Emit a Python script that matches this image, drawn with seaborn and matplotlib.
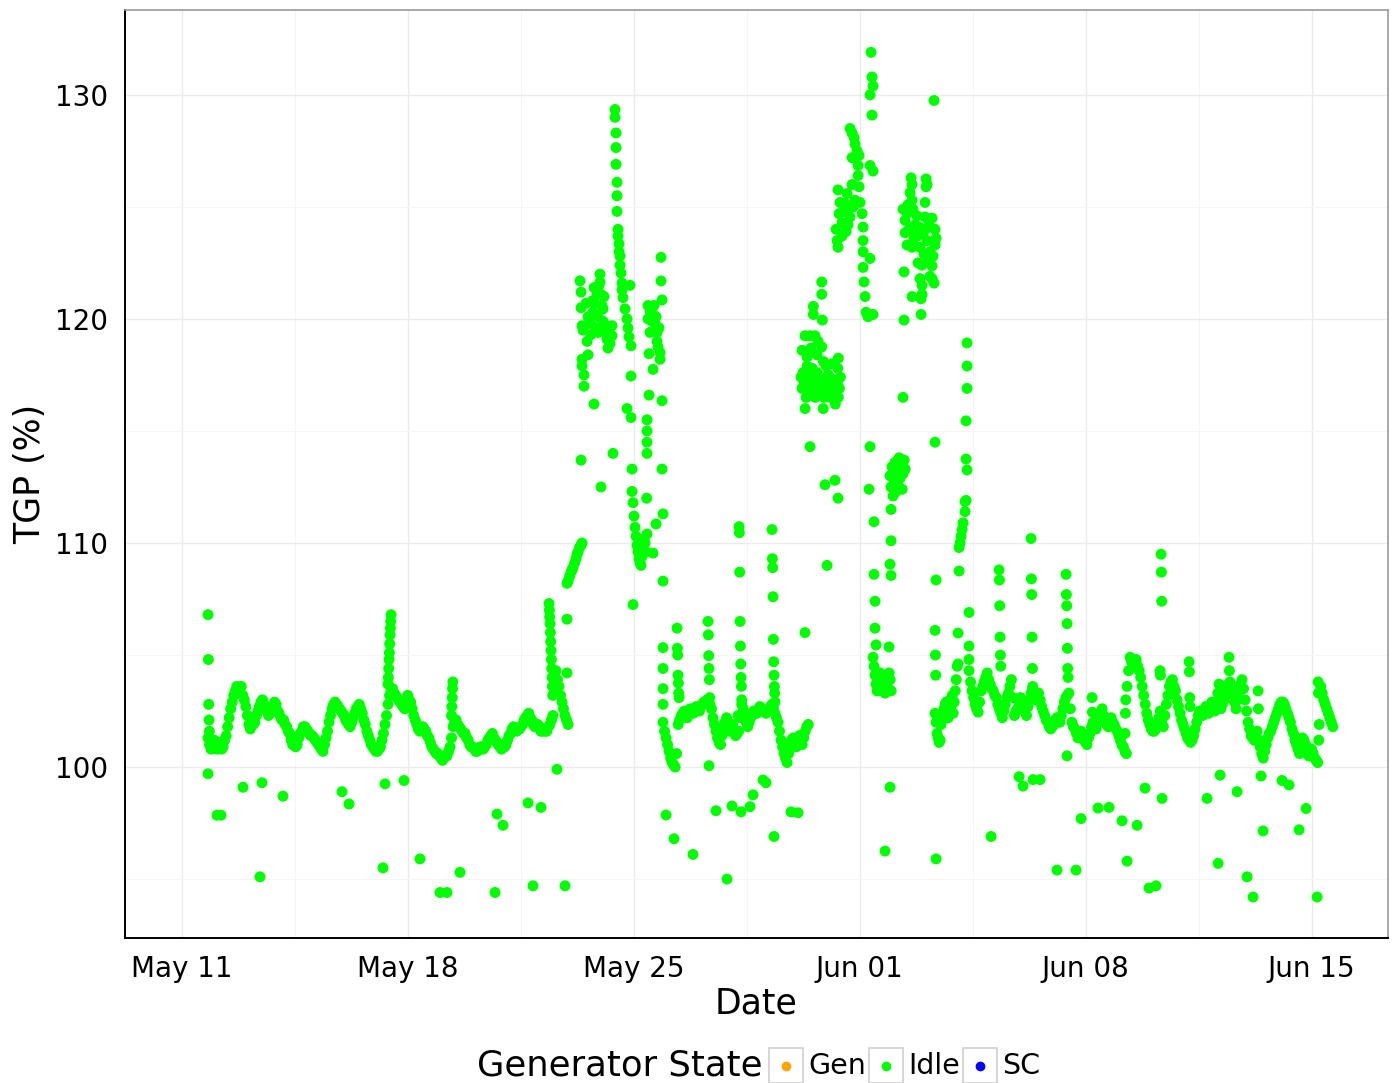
import numpy as np
import pandas as pd
import matplotlib
matplotlib.use("Agg")
import matplotlib.pyplot as plt
import matplotlib.dates as mdates
from matplotlib.patches import Rectangle
from matplotlib.lines import Line2D
from matplotlib.ticker import FixedLocator
import seaborn as sns

# ---------------------------------------------------------------------------
# Data: TGP readings (%) ; times are day offsets from 11 May 00:00
# ---------------------------------------------------------------------------
START = pd.Timestamp("2015-05-11")
BASE_STEP_H = 2.25    # regular baseline readings
FINE_STEP_H = 0.75    # dense clusters
SPIKE_STEP_H = 0.25   # rapid excursions

states = ["Gen", "Idle", "SC"]
state_colors = {"Gen": "#FFA500", "Idle": "#00FF00", "SC": "#0000FF"}

# baseline runs: readings every BASE_STEP_H, plus the readings taken half a step later
base_may11_start = 0.806
base_may11 = [101.3, 100.8, 101.2, 100.8, 101.1, 100.9, 101.4, 102.2, 102.9, 103.4,
              103.3, 103.6, 103.0, 102.3, 101.7, 101.9, 102.3, 102.7, 103.0, 102.6,
              102.3, 102.6, 102.9, 102.5, 102.2, 102.1, 101.8, 101.5, 101.0, 100.9,
              101.3, 101.6, 101.8, 101.6, 101.4, 101.3, 101.1, 100.9, 100.7, 101.3,
              102.0, 102.6, 102.9, 102.7, 102.5, 102.3, 102.0, 101.8, 102.2, 102.6,
              102.8, 102.4, 101.9, 101.4, 101.0, 100.8, 100.7, 100.9, 101.5, 102.3,
              103.2, 103.5, 103.2, 103.0, 102.8, 102.6, 103.2, 102.9, 102.3, 101.9,
              101.6, 101.8, 101.6, 101.3, 100.9, 100.7, 100.6, 100.4, 100.4, 100.5,
              100.9, 101.8, 102.1, 101.8, 101.6, 101.5, 101.2, 100.9, 100.8, 100.7,
              100.9, 100.8, 101.0, 101.3, 101.5, 101.2, 101.0, 100.8, 100.9, 101.2,
              101.5, 101.8, 101.6, 101.7, 101.9, 102.2, 102.4, 102.1, 101.8, 101.9,
              101.6, 101.7, 101.6, 101.9, 102.3, 104.3, 103.6, 102.9, 102.3, 101.9]
half_may11 = [101.0, 101.1, 101.0, 101.0, 100.8, 101.2, 101.8, 102.6, 103.2, 103.6,
              103.3, 103.2, 102.7, 101.9, 101.9, 102.0, 102.5, 102.9, 102.8, 102.5,
              102.4, 102.7, 102.8, 102.4, 102.1, 101.9, 101.6, 101.2, 101.1, 101.0,
              101.5, 101.8, 101.7, 101.5, 101.4, 101.2, 101.0, 100.8, 101.0, 101.6,
              102.3, 102.8, 102.8, 102.6, 102.4, 102.1, 101.9, 102.0, 102.4, 102.7,
              102.6, 102.1, 101.6, 101.2, 100.9, 100.7, 100.8, 101.2, 101.9, 102.8,
              103.4, 103.3, 103.1, 102.9, 102.7, 102.9, 103.0, 102.6, 102.1, 101.7,
              101.7, 101.7, 101.4, 101.1, 100.8, 100.6, 100.5, 100.3, 100.5, 100.7,
              101.3, 102.0, 101.9, 101.7, 101.5, 101.3, 101.0, 100.9, 100.7, 100.8,
              100.9, 100.9, 101.2, 101.4, 101.3, 101.1, 100.9, 100.9, 101.0, 101.4,
              101.7, 101.7, 101.7, 101.8, 102.1, 102.3, 102.2, 101.9, 101.8, 101.8,
              101.6, 101.6, 101.8, 102.1, 103.3, 103.9, 103.2, 102.6, 102.1]

base_may26_start = 14.906
base_may26 = [102.0, 101.3, 100.7, 100.2, 100.0, 101.9, 102.3, 102.5, 102.2, 102.6,
              102.4, 102.7, 102.5, 102.8, 102.9, 103.0, 102.6, 101.9, 101.3, 101.0,
              101.8, 102.2, 101.6, 101.9, 101.4, 101.6, 102.8, 102.3, 101.8, 102.2,
              102.5, 102.4, 102.7, 102.5, 102.4, 102.6, 102.8, 102.4, 102.0, 101.2,
              100.6, 100.2, 101.0, 101.3, 100.9, 101.4, 101.0, 101.6, 101.9]
half_may26 = [101.6, 101.0, 100.4, 100.1, 100.6, 102.1, 102.4, 102.3, 102.4, 102.5,
              102.6, 102.6, 102.7, 102.9, 103.0, 102.8, 102.2, 101.6, 101.1, 101.4,
              102.0, 101.9, 101.7, 101.6, 101.5, 102.2, 102.6, 102.0, 102.0, 102.4,
              102.4, 102.6, 102.6, 102.5, 102.5, 102.7, 102.6, 102.2, 101.6, 100.9,
              100.4, 100.6, 101.2, 101.1, 101.2, 101.2, 101.3, 101.8]

base_jun04_start = 24.388
base_jun04 = [104.3, 103.4, 102.8, 102.45, 103.4, 103.8, 104.2, 103.7, 103.4, 103.1,
              102.6, 102.2, 102.8, 103.3, 103.9, 102.3, 102.6, 103.1, 102.7, 102.3,
              103.0, 103.5, 103.0, 103.3, 102.7, 102.3, 102.0, 101.7, 101.9, 102.2,
              102.0, 102.6, 103.1, 103.3, 102.0, 101.7, 101.3, 101.6, 101.2, 101.0,
              101.5, 102.0, 101.7, 102.2, 102.6, 102.0, 101.8, 102.2, 101.9, 101.6,
              101.2, 100.9, 100.6]
half_jun04 = [103.8, 103.1, 102.6, 102.9, 103.6, 104.0, 103.9, 103.5, 103.2, 102.8,
              102.4, 102.5, 103.1, 103.6, 103.1, 102.5, 102.9, 102.9, 102.5, 102.7,
              103.3, 103.2, 103.2, 103.0, 102.5, 102.1, 101.8, 101.8, 102.1, 102.1,
              102.3, 102.9, 103.2, 102.6, 101.8, 101.5, 101.4, 101.4, 101.1, 101.3,
              101.8, 101.8, 102.0, 102.4, 102.3, 101.9, 102.0, 102.0, 101.7, 101.4,
              101.0, 100.7]

base_jun09_start = 29.285
base_jun09 = [103.6, 104.9, 104.6, 104.8, 104.3, 103.6, 102.8, 102.1, 101.7, 101.6,
              101.9, 102.5, 101.8, 102.8, 103.6, 103.9, 103.4, 102.7, 102.1, 101.7,
              101.3, 101.1, 101.4, 102.0, 102.5, 102.3, 102.7, 102.4, 102.9, 102.5,
              103.3, 102.6, 103.0, 103.5, 103.8, 103.2, 102.6, 103.4, 103.9, 103.0,
              102.0, 101.4, 101.2, 101.6, 100.9, 100.4, 101.0, 101.5, 101.8, 102.2,
              102.6, 102.9, 102.8, 102.4, 102.0, 101.5, 101.0, 100.6, 101.3, 101.0,
              100.5, 100.8, 100.4, 100.2, 103.6, 103.0, 102.6, 102.2, 101.8]
half_jun09 = [104.3, 104.7, 104.7, 104.5, 104.0, 103.2, 102.4, 101.9, 101.6, 101.7,
              102.2, 102.1, 102.3, 103.2, 103.8, 103.6, 103.0, 102.4, 101.9, 101.5,
              101.2, 101.2, 101.7, 102.3, 102.4, 102.5, 102.5, 102.7, 102.7, 102.9,
              103.0, 102.8, 103.3, 103.7, 103.5, 102.9, 103.0, 103.7, 103.5, 102.5,
              101.7, 101.3, 101.4, 101.2, 100.6, 100.7, 101.3, 101.6, 102.0, 102.4,
              102.8, 102.9, 102.6, 102.2, 101.7, 101.2, 100.8, 100.9, 101.2, 100.7,
              100.6, 100.6, 100.3, 101.9, 103.3, 102.8, 102.4, 102.0]

# dense runs (start offset, values every FINE_STEP_H)
fine_may31_start = 19.182
fine_may31 = [117.4, 116.9, 117.6, 117.2, 116.0, 116.5, 117.9, 117.4, 117.0, 116.6,
              117.3, 117.8, 117.4, 116.9, 116.5, 117.2, 117.6, 117.0, 116.6, 116.9,
              117.3, 116.8, 116.0, 116.5, 117.0, 116.7, 117.2, 117.5, 116.9, 116.5,
              116.9, 117.3, 116.8, 116.4, 116.2, 116.6, 117.1, 116.5, 116.9, 117.4]

fine_jun01_start = 21.413
fine_jun01 = [104.9, 104.5, 104.1, 103.7, 103.4, 104.0, 103.6, 104.2, 103.8, 103.4,
              104.1, 103.7, 103.3, 104.0, 103.6, 103.5, 104.2, 103.9, 103.4]

fine_jun02_start = 21.940
fine_jun02 = [113.0, 112.5, 113.4, 112.1, 112.8, 113.6, 112.3, 113.2, 112.6, 113.8,
              112.9, 113.5, 112.4, 113.1, 113.7, 113.3]

fine_jun03_start = 23.335
fine_jun03 = [102.4, 102.0, 101.5, 101.3, 101.1, 101.2, 101.9, 102.1, 102.3, 102.6,
              102.8, 102.9, 102.5, 102.2, 102.6, 103.0, 102.7, 103.2, 102.4, 102.9,
              103.4, 103.9, 104.5]

# rapid excursions (start offset, values every SPIKE_STEP_H)
spikes = [
    (0.806, [106.8, 104.8, 102.8, 102.1, 101.6]),
    (6.384, [103.7, 104.0, 104.4, 104.8, 105.1, 105.5, 105.9, 106.2, 106.5, 106.8]),
    (8.352, [102.3, 102.7, 103.1, 103.5, 103.8]),
    (11.373, [107.3, 107.0, 106.7, 106.4, 106.0, 105.6, 105.2, 104.8, 104.4, 104.0, 103.6, 103.2]),
    (15.339, [106.2, 105.3, 105.0, 104.1, 103.75, 103.3, 103.1]),
    (16.300, [106.5, 105.9, 104.97, 104.4, 103.9, 103.1]),
    (17.230, [102.3]),
    (17.261, [110.73, 110.46, 108.7, 106.5, 105.4, 104.6, 104.0, 103.6, 103.0]),
    (18.283, [110.6, 109.3, 108.9, 107.6, 105.7, 104.7, 104.1, 103.6, 103.3, 102.9]),
    (23.335, [106.1, 105.0, 104.1]),
    (25.318, [108.8, 108.35, 107.2, 105.8, 105.0, 104.5]),
    (26.310, [110.2, 108.4, 107.7, 105.8, 104.4, 103.6]),
    (27.394, [108.6, 107.7, 107.2, 106.4, 105.3, 104.4, 104.0]),
    (28.200, [103.1, 102.45]),
    (29.223, [101.5, 102.4, 103.0]),
    (30.307, [104.3, 104.1]),
    (30.338, [109.5, 108.7, 107.4]),
    (31.206, [104.7, 104.25, 103.1, 102.7]),
    (32.136, [103.7]),
    (32.445, [104.9, 104.3]),
    (33.344, [103.4, 102.6]),
    (35.204, [103.8, 103.3, 101.2]),
]

# isolated readings (offset, value)
isolated = [
    (0.806, 99.7), (1.085, 97.85), (1.209, 97.85), (1.890, 99.1), (2.417, 95.1),
    (2.479, 99.3), (3.130, 98.7), (4.958, 98.9), (5.175, 98.35), (6.229, 95.5),
    (6.291, 99.25), (6.880, 99.4), (7.375, 95.9), (7.995, 94.4), (8.212, 94.4),
    (8.615, 95.3), (9.700, 94.4), (9.762, 97.9), (9.947, 97.4), (10.722, 98.4),
    (10.877, 94.7), (11.125, 98.2), (11.621, 99.9), (11.869, 94.7), (11.931, 106.6),
    (11.931, 104.2), (12.365, 113.7), (12.767, 116.2), (12.984, 112.5), (13.356, 114.0),
    (13.976, 107.25), (14.999, 97.86), (15.247, 96.8), (15.835, 96.1), (16.331, 100.06),
    (16.548, 98.05), (16.889, 95.0), (17.044, 98.26), (17.323, 98.0), (17.602, 98.23),
    (17.695, 98.76), (18.005, 99.42), (18.098, 99.3), (18.345, 96.9), (18.872, 98.0),
    (19.089, 97.96), (19.306, 106.0), (19.988, 109.0), (19.461, 114.3), (19.926, 112.6),
    (20.236, 112.8), (20.329, 112.0), (21.785, 96.25), (21.940, 99.1), (22.343, 116.5),
    (23.304, 129.75), (23.335, 114.5), (23.366, 108.35), (23.366, 95.9), (25.070, 96.9),
    (25.938, 99.57), (26.062, 99.15), (26.372, 99.44), (26.589, 99.44), (27.115, 95.4),
    (27.425, 100.5), (27.704, 95.4), (27.859, 97.7), (28.386, 98.17), (28.727, 98.2),
    (29.130, 97.6), (29.285, 95.8), (29.595, 97.4), (29.842, 99.06), (29.966, 94.6),
    (30.183, 94.7), (30.369, 98.6), (31.764, 98.6), (32.105, 95.7), (32.167, 99.64),
    (32.693, 98.9), (33.003, 95.1), (33.189, 94.2), (33.499, 97.15), (34.088, 99.4),
    (34.305, 99.2), (34.615, 97.2), (34.832, 98.15), (35.173, 94.2), (33.437, 99.6),
]

may23_rise = [
    (11.931, 108.2), (11.962, 108.3), (12.008, 108.5), (12.055, 108.7), (12.086, 108.8),
    (12.117, 108.9), (12.163, 109.1), (12.210, 109.3), (12.241, 109.5), (12.272, 109.6),
    (12.318, 109.8), (12.365, 109.9), (12.396, 110.0),
]

may24_peak = [
    (12.334, 121.7), (12.365, 121.2), (12.365, 120.5), (12.396, 119.7), (12.427, 119.5),
    (12.396, 118.2), (12.396, 117.9), (12.458, 117.5), (12.458, 117.0), (12.551, 119.0),
    (12.582, 118.4), (12.582, 120.1), (12.643, 119.8), (12.705, 120.8), (12.736, 120.3),
    (12.798, 120.7), (12.860, 121.1), (12.891, 120.1), (12.891, 119.4), (12.953, 122.0),
    (12.953, 121.65), (12.984, 121.1), (13.015, 120.6), (13.046, 120.45), (13.046, 119.9),
    (13.108, 119.4), (13.139, 119.7), (13.170, 119.1), (13.201, 118.7), (13.263, 118.9),
    (13.325, 119.7), (13.325, 119.25), (12.767, 121.4), (12.829, 119.6), (12.922, 121.5),
    (13.077, 121.0), (13.232, 119.5), (12.674, 119.3), (12.520, 120.7),
    (13.418, 129.35), (13.418, 129.0), (13.449, 128.3), (13.449, 127.65), (13.449, 126.9),
    (13.480, 126.1), (13.480, 125.5), (13.480, 124.8), (13.511, 124.0), (13.511, 123.7),
    (13.542, 123.35), (13.542, 123.0), (13.573, 122.8), (13.573, 122.4), (13.604, 122.05),
    (13.635, 121.6), (13.635, 121.3), (13.666, 120.95), (13.728, 120.45), (13.790, 120.0),
    (13.821, 119.6), (13.852, 119.2), (13.883, 121.5), (13.914, 118.8), (13.914, 117.45),
    (13.790, 116.0), (13.914, 115.6), (13.945, 113.3),
]

may26_drop = [
    (13.945, 112.3), (13.976, 111.8), (14.007, 111.2), (14.038, 110.7), (14.069, 110.3),
    (14.100, 109.9), (14.131, 109.6), (14.162, 109.3), (14.193, 109.1), (14.224, 109.0),
    (14.255, 109.4), (14.286, 109.8), (14.317, 110.2), (14.348, 110.0), (14.379, 109.6),
    (14.410, 110.4), (14.400, 112.0), (14.410, 115.5), (14.410, 115.0), (14.410, 114.5),
    (14.410, 114.0), (14.472, 116.6), (14.441, 120.6), (14.503, 120.35), (14.596, 120.2),
    (14.441, 120.0), (14.503, 119.4), (14.720, 119.4), (14.658, 119.8), (14.720, 119.0),
    (14.751, 118.75), (14.813, 118.5), (14.813, 118.2), (14.472, 118.45), (14.596, 117.75),
    (14.844, 122.75), (14.844, 121.7), (14.875, 120.85), (14.875, 116.35), (14.875, 113.3),
    (14.906, 111.3), (14.689, 110.85), (14.596, 109.55), (14.906, 108.3), (14.906, 105.33),
    (14.906, 104.4), (14.906, 103.5), (14.906, 102.8), (14.565, 119.9), (14.627, 120.6),
    (14.689, 120.1), (14.782, 119.6),
]

may31_upper = [
    (19.824, 121.65), (19.824, 121.1), (19.564, 120.56), (19.564, 120.2), (19.843, 119.95),
    (19.306, 119.25), (19.461, 119.25), (19.616, 119.25), (19.824, 118.75), (19.874, 118.1),
    (20.338, 118.25), (20.320, 117.8), (19.213, 118.6), (19.368, 118.3), (19.492, 118.7),
    (19.678, 118.4), (19.957, 117.9), (20.143, 118.0), (19.709, 119.0),
]

jun01_peak = [
    (21.351, 131.9), (21.382, 130.8), (21.413, 130.4), (21.320, 130.0), (21.382, 129.1),
    (21.320, 126.85), (21.413, 126.6), (20.701, 128.5), (20.763, 128.3), (20.856, 127.8),
    (20.763, 127.2), (20.949, 126.85), (20.949, 126.4), (20.980, 125.9), (20.918, 127.5),
    (20.825, 128.1), (20.980, 127.3), (20.329, 125.76), (20.391, 125.2), (20.360, 124.7),
    (20.453, 124.3), (20.329, 123.2), (20.763, 126.0), (20.701, 124.55), (20.546, 125.16),
    (20.453, 123.7), (20.267, 124.0), (20.298, 123.5), (20.515, 124.8), (20.608, 125.6),
    (20.639, 124.2), (20.794, 125.0), (20.856, 125.3), (20.577, 123.9), (21.011, 125.2),
    (21.073, 124.7), (21.104, 124.1), (21.104, 123.5), (21.104, 123.0), (21.104, 122.3),
    (21.135, 121.65), (21.166, 121.0), (21.197, 120.3), (21.259, 120.1), (21.413, 120.2),
    (21.320, 122.7), (21.320, 114.3), (21.289, 112.4), (21.444, 110.95), (21.444, 108.6),
    (21.475, 107.4), (21.475, 106.2), (21.506, 105.45), (21.909, 105.36), (21.971, 111.5),
    (21.971, 110.1), (21.940, 109.05), (21.971, 108.55),
]

jun02_peak = [
    (22.622, 126.0), (22.560, 125.64), (23.056, 126.25), (23.056, 125.9), (22.343, 124.9),
    (22.405, 124.4), (22.653, 124.9), (22.715, 124.2), (23.025, 125.2), (23.025, 124.55),
    (23.087, 124.06), (23.149, 124.2), (23.335, 124.0), (22.405, 123.85), (22.467, 123.3),
    (22.777, 123.7), (22.870, 123.2), (23.180, 123.0), (23.335, 123.3), (22.808, 122.5),
    (22.932, 122.4), (23.242, 122.37), (22.870, 121.8), (22.932, 121.5), (23.242, 121.8),
    (22.901, 120.9), (22.901, 120.2), (22.622, 121.0), (22.374, 122.1), (22.374, 119.95),
    (22.467, 124.7), (22.498, 125.1), (22.529, 124.0), (22.622, 125.3), (22.684, 123.6),
    (22.777, 124.6), (22.839, 124.1), (22.963, 123.8), (22.994, 122.9), (23.087, 123.5),
    (23.118, 122.6), (23.242, 124.5), (23.273, 122.8), (23.304, 121.6), (23.366, 123.6),
    (22.932, 121.1), (23.180, 121.9), (22.622, 123.2), (22.591, 126.3), (23.087, 126.0),
]

jun04_spike = [
    (24.048, 104.6), (24.048, 105.98), (24.079, 108.75), (24.079, 109.8), (24.110, 110.0),
    (24.141, 110.3), (24.172, 110.6), (24.203, 110.9), (24.264, 111.4), (24.264, 111.85),
    (24.295, 111.9), (24.295, 113.75), (24.326, 113.26), (24.295, 115.45), (24.326, 116.9),
    (24.326, 117.9), (24.326, 118.93), (24.388, 106.9), (24.388, 105.4), (24.388, 104.8),
]

# ---------------------------------------------------------------------------
# Assemble one long table
# ---------------------------------------------------------------------------
offsets, values = [], []


def add_run(start, vals, step_h):
    for i, v in enumerate(vals):
        offsets.append(start + i * step_h / 24.0)
        values.append(v)


def add_pairs(pairs):
    for t, v in pairs:
        offsets.append(t)
        values.append(v)


half_day = BASE_STEP_H / 2 / 24.0
for start, vals, halves in [(base_may11_start, base_may11, half_may11),
                            (base_may26_start, base_may26, half_may26),
                            (base_jun04_start, base_jun04, half_jun04),
                            (base_jun09_start, base_jun09, half_jun09)]:
    add_run(start, vals, BASE_STEP_H)
    add_run(start + half_day, halves, BASE_STEP_H)
for start, vals in [(fine_may31_start, fine_may31), (fine_jun01_start, fine_jun01),
                    (fine_jun02_start, fine_jun02), (fine_jun03_start, fine_jun03)]:
    add_run(start, vals, FINE_STEP_H)
for start, vals in spikes:
    add_run(start, vals, SPIKE_STEP_H)
for grp in [isolated, may23_rise, may24_peak, may26_drop, may31_upper,
            jun01_peak, jun02_peak, jun04_spike]:
    add_pairs(grp)

df = pd.DataFrame({
    "time": START + pd.to_timedelta(np.array(offsets), unit="D"),
    "TGP": values,
    "state": pd.Categorical(["Idle"] * len(values), categories=states),
})

# ---------------------------------------------------------------------------
# Plot
# ---------------------------------------------------------------------------
sns.set_theme(style="white")
plt.rcParams["font.family"] = ["DejaVu Sans"]
plt.rcParams["text.color"] = "black"

W, H = 1397, 1083
fig = plt.figure(figsize=(W / 100, H / 100), dpi=100)
ax = fig.add_axes([125 / W, 1 - 938 / H, (1388 - 125) / W, (938 - 10) / H])

sns.scatterplot(data=df, x="time", y="TGP", hue="state", hue_order=states,
                palette=state_colors, s=62, linewidth=0, alpha=1.0,
                legend=False, ax=ax, zorder=3)

ax.set_xlim(START + pd.Timedelta(days=-1.766), START + pd.Timedelta(days=37.37))
ax.set_ylim(92.37, 133.79)

major_dates = [pd.Timestamp(d) for d in ["2015-05-11", "2015-05-18", "2015-05-25",
                                          "2015-06-01", "2015-06-08", "2015-06-15"]]
minor_dates = [d + pd.Timedelta(days=3.5) for d in
               [pd.Timestamp("2015-05-04")] + major_dates]
ax.xaxis.set_major_locator(FixedLocator(mdates.date2num(major_dates)))
ax.xaxis.set_minor_locator(FixedLocator(mdates.date2num(minor_dates)))
ax.xaxis.set_major_formatter(mdates.DateFormatter("%b %d"))
ax.yaxis.set_major_locator(FixedLocator([100, 110, 120, 130]))
ax.yaxis.set_minor_locator(FixedLocator([95, 105, 115, 125]))

ax.set_axisbelow(True)
ax.grid(which="major", color="#EBEBEB", linewidth=1.0)
ax.grid(which="minor", color="#F4F4F4", linewidth=0.6)

ax.tick_params(which="major", length=6, width=1.2, color="#333333",
               labelsize=20, labelcolor="black", pad=6)
ax.tick_params(which="minor", length=0)

for side in ["left", "bottom"]:
    ax.spines[side].set_color("black")
    ax.spines[side].set_linewidth(1.4)
for side in ["top", "right"]:
    ax.spines[side].set_color("#999999")
    ax.spines[side].set_linewidth(1.2)

ax.set_xlabel("")
ax.set_ylabel("")
fig.text(756.5 / W, 1 - 1003 / H, "Date", fontsize=25, ha="center", va="center",
         color="black")
fig.text(30 / W, 1 - 474 / H, "TGP (%)", fontsize=25, ha="center", va="center",
         rotation=90, color="black")

# Legend along the bottom: title followed by boxed keys
leg_y = 1 - 1066 / H
fig.text(477 / W, leg_y, "Generator State", fontsize=25.5, ha="left", va="center",
         color="black")
key_left = {"Gen": 769, "Idle": 869, "SC": 963}
for st in states:
    x0 = key_left[st]
    fig.patches.append(Rectangle((x0 / W, 1 - 1083 / H), 34 / W, 35 / H,
                                 transform=fig.transFigure, facecolor="white",
                                 edgecolor="#D0D0D0", linewidth=1.2))
    fig.add_artist(Line2D([(x0 + 17) / W], [leg_y], marker="o", markersize=6,
                          color=state_colors[st], linestyle="none",
                          transform=fig.transFigure))
    fig.text((x0 + 39) / W, leg_y, st, fontsize=20.5, ha="left", va="center",
             color="black")

fig.savefig("out.png", dpi=100)
